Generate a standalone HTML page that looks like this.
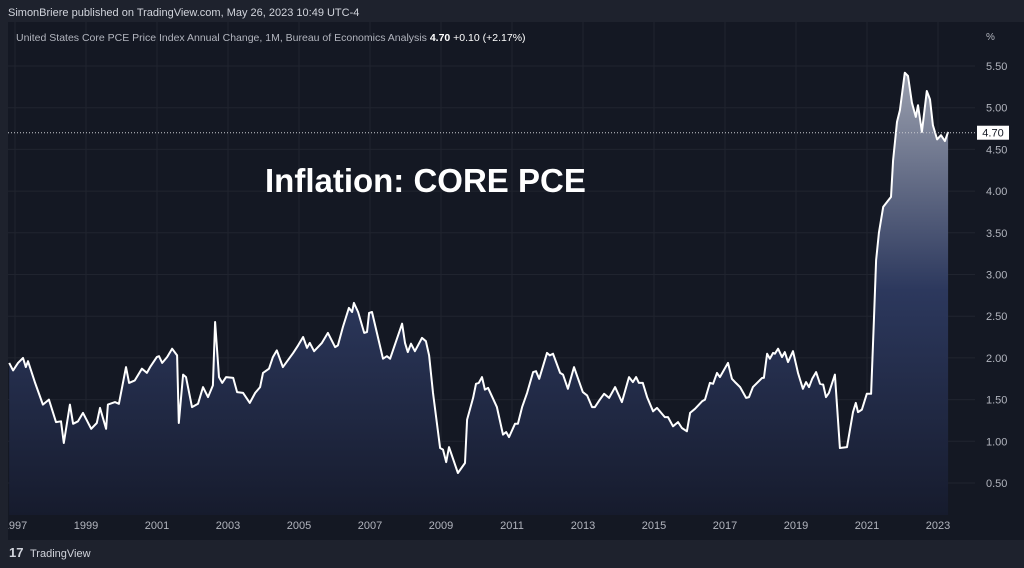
<!DOCTYPE html>
<html><head><meta charset="utf-8">
<style>
body{margin:0;width:1024px;height:568px;overflow:hidden;background:#1e222d;font-family:"Liberation Sans",sans-serif;}
svg{display:block}
</style></head><body>
<svg id="chart" width="1024" height="568">
<defs><clipPath id="xclip"><rect x="8" y="515" width="967" height="25"/></clipPath></defs>
<rect x="0" y="0" width="1024" height="568" fill="#1e222d"/>
<rect x="8" y="22" width="1016" height="518" fill="#141823"/>
<text x="8" y="16" fill="#d1d4dc" font-size="11">SimonBriere published on TradingView.com, May 26, 2023 10:49 UTC-4</text>
<g id="grid"></g>
<g id="area"></g>
<text x="16" y="41" fill="#b2b5be" font-size="10.5">United States Core PCE Price Index Annual Change, 1M, Bureau of Economics Analysis <tspan fill="#ffffff" font-weight="bold">4.70</tspan> <tspan fill="#ffffff">+0.10 (+2.17%)</tspan></text>
<text x="265" y="192" fill="#ffffff" font-size="33" font-weight="bold">Inflation: CORE PCE</text>
<text x="986" y="40" fill="#b2b5be" font-size="10">%</text>
<g id="yaxis"></g>
<g id="xaxis" clip-path="url(#xclip)"></g>
<g>
<text x="9" y="557" fill="#d1d4dc" font-size="13" font-weight="bold">17</text>
<text x="30" y="557" fill="#d1d4dc" font-size="11">TradingView</text>
</g>
</svg>
<script>
const t = [-0.08,0.03,0.17,0.31,0.39,0.45,0.65,0.87,1.04,1.24,1.38,1.46,1.63,1.72,1.86,2.00,2.23,2.39,2.48,2.65,2.70,2.90,3.01,3.21,3.30,3.46,3.66,3.80,3.89,4.08,4.14,4.23,4.37,4.51,4.65,4.70,4.82,4.90,5.07,5.24,5.38,5.52,5.66,5.72,5.83,5.92,6.03,6.23,6.34,6.51,6.70,6.85,6.99,7.07,7.24,7.35,7.46,7.63,7.92,8.06,8.20,8.31,8.39,8.51,8.73,8.90,9.10,9.18,9.32,9.49,9.58,9.63,9.75,9.92,10.00,10.06,10.14,10.45,10.56,10.65,10.99,11.07,11.15,11.24,11.35,11.55,11.66,11.75,11.86,12.06,12.14,12.23,12.31,12.56,12.76,12.82,12.99,13.07,13.15,13.24,13.32,13.41,13.66,13.83,13.92,14.00,14.17,14.25,14.37,14.51,14.68,14.76,14.85,15.07,15.15,15.24,15.44,15.52,15.66,15.83,16.08,16.20,16.34,16.42,16.56,16.68,16.82,16.99,17.18,17.38,17.49,17.58,17.66,17.77,17.89,18.06,18.17,18.39,18.48,18.62,18.76,18.87,19.01,19.10,19.24,19.44,19.52,19.66,19.75,19.86,19.94,20.17,20.28,20.39,20.51,20.68,20.76,20.87,21.13,21.18,21.27,21.35,21.44,21.49,21.58,21.69,21.77,21.86,22.00,22.14,22.28,22.37,22.45,22.54,22.65,22.76,22.85,22.93,23.01,23.18,23.32,23.52,23.69,23.77,23.83,23.94,24.08,24.20,24.28,24.34,24.42,24.54,24.65,24.76,24.82,24.93,25.01,25.15,25.24,25.35,25.46,25.52,25.63,25.77,25.86,25.94,26.06,26.17,26.28,26.37];
const values = [1.94,1.85,1.94,2.00,1.89,1.96,1.70,1.44,1.50,1.23,1.24,0.98,1.44,1.21,1.24,1.34,1.15,1.22,1.40,1.15,1.44,1.47,1.45,1.89,1.70,1.73,1.87,1.82,1.89,2.01,2.02,1.94,2.01,2.11,2.03,1.22,1.80,1.77,1.41,1.45,1.65,1.53,1.67,2.43,1.77,1.70,1.77,1.76,1.59,1.58,1.46,1.58,1.65,1.82,1.87,2.01,2.09,1.89,2.06,2.15,2.25,2.12,2.18,2.08,2.18,2.30,2.13,2.15,2.37,2.60,2.55,2.66,2.55,2.30,2.31,2.54,2.55,1.99,2.02,1.99,2.41,2.18,2.07,2.17,2.08,2.24,2.20,2.03,1.58,0.92,0.90,0.75,0.93,0.62,0.74,1.26,1.52,1.69,1.70,1.77,1.62,1.64,1.41,1.08,1.11,1.05,1.21,1.21,1.41,1.58,1.83,1.84,1.75,2.06,2.03,2.05,1.82,1.80,1.63,1.89,1.59,1.55,1.41,1.41,1.50,1.57,1.52,1.65,1.47,1.77,1.71,1.77,1.70,1.70,1.53,1.36,1.40,1.29,1.29,1.18,1.23,1.16,1.12,1.34,1.39,1.48,1.50,1.70,1.69,1.82,1.77,1.94,1.75,1.70,1.65,1.52,1.53,1.65,1.76,1.76,2.05,1.99,2.06,2.05,2.11,2.01,2.07,1.95,2.08,1.82,1.63,1.71,1.65,1.75,1.83,1.69,1.68,1.53,1.58,1.80,0.92,0.93,1.35,1.46,1.35,1.38,1.57,1.57,2.45,3.17,3.50,3.81,3.87,3.93,4.37,4.83,4.97,5.42,5.38,5.06,4.89,5.03,4.71,5.20,5.10,4.79,4.62,4.67,4.60,4.71];
const yTicks = ["0.50","1.00","1.50","2.00","2.50","3.00","3.50","4.00","4.50","5.00","5.50"];
const xTicks = ["1997","1999","2001","2003","2005","2007","2009","2011","2013","2015","2017","2019","2021","2023"];
const lastValue = 4.70;

const NS="http://www.w3.org/2000/svg";
const X = v => 12 + v*35.5;
const Y = v => 483 - (v-0.5)*83.4;
const yearX = y => X(y-1997) + 3;
function mk(tag, attrs, parent){const e=document.createElementNS(NS,tag);for(const k in attrs)e.setAttribute(k,attrs[k]);parent.appendChild(e);return e;}
const svg=document.getElementById('chart');
const grid=document.getElementById('grid'), area=document.getElementById('area'), ya=document.getElementById('yaxis'), xa=document.getElementById('xaxis');

yTicks.forEach(s=>{const v=parseFloat(s);const y=Y(v);
 const l=mk('line',{x1:8,x2:975,y1:y,y2:y,stroke:'#20242f','stroke-width':1},grid);
 
 
 const tx=mk('text',{x:986,y:y+4,fill:'#b2b5be','font-size':11},ya);tx.textContent=s;
 
 
});
xTicks.forEach(s=>{const x=yearX(parseInt(s));
 const l=mk('line',{x1:x,x2:x,y1:22,y2:515,stroke:'#20242f','stroke-width':1},grid);
 
 
 const tx=mk('text',{x:x,y:529,fill:'#b2b5be','font-size':11,'text-anchor':'middle'},xa);tx.textContent=s;
 
 
});

const defs=mk('defs',{},svg);
const g=mk('linearGradient',{id:'fillg',x1:0,y1:0,x2:0,y2:1,gradientUnits:'userSpaceOnUse'},defs);
g.setAttribute('y1',Y(5.5));g.setAttribute('y2',515);
mk('stop',{offset:'0','stop-color':'#9ea3b1'},g);
mk('stop',{offset:'0.5','stop-color':'#2c385d'},g);
mk('stop',{offset:'1','stop-color':'#161b2d'},g);

let d='';
t.forEach((v,i)=>{d+=(i?'L':'M')+X(v).toFixed(1)+','+Y(values[i]).toFixed(1);});
const fillD=d+'L'+X(t[t.length-1]).toFixed(1)+',515L'+X(t[0]).toFixed(1)+',515Z';
const f=mk('path',{d:fillD,fill:'url(#fillg)'},area);


const ln=mk('path',{d:d,fill:'none',stroke:'#ffffff','stroke-width':2,'stroke-linejoin':'round'},area);



const py=Y(lastValue);
const pl=mk('line',{x1:8,x2:975,y1:py,y2:py,stroke:'#c8cad0','stroke-width':1,'stroke-dasharray':'1,2'},area);


const box=mk('rect',{x:977,y:py-7,width:32,height:14,fill:'#ffffff'},svg);


const bt=mk('text',{x:993,y:py+4,fill:'#131722','font-size':11,'text-anchor':'middle'},svg);
bt.textContent=lastValue.toFixed(2);


</script>
</body></html>
